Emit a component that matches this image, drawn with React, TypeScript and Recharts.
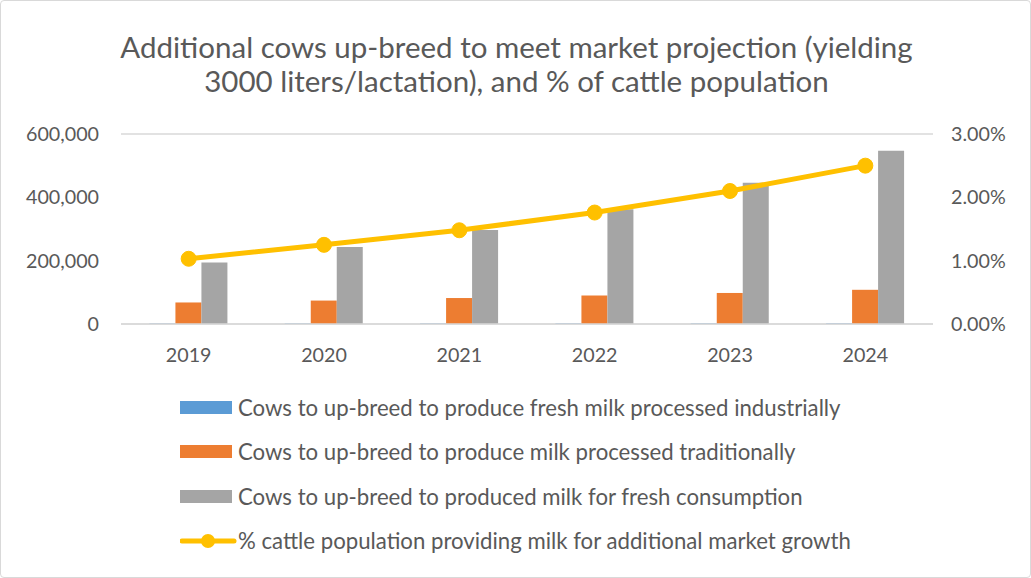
import React from 'react';
import { ComposedChart, Bar, Line, XAxis, YAxis, CartesianGrid, Legend } from 'recharts';

const years = ['2019', '2020', '2021', '2022', '2023', '2024'];
const industrial = [1500, 1600, 1700, 1800, 1900, 2000];
const traditional = [68000, 74000, 82000, 90000, 98000, 108000];
const freshConsumption = [194000, 243000, 297000, 362000, 446000, 547000];
const cattleShare = [1.03, 1.25, 1.48, 1.76, 2.1, 2.5];

const leftTicks = [0, 200000, 400000, 600000];
const rightTicks = [0, 1, 2, 3];

const titleLines = [
  'Additional cows up-breed to meet market projection (yielding',
  '3000 liters/lactation), and % of cattle population',
];

const legendItems = [
  { name: 'Cows to up-breed to produce fresh milk processed industrially', color: '#5b9bd5', kind: 'bar' },
  { name: 'Cows to up-breed to produce milk processed traditionally', color: '#ed7d31', kind: 'bar' },
  { name: 'Cows to up-breed to produced milk for fresh consumption', color: '#a5a5a5', kind: 'bar' },
  { name: '% cattle population providing milk for additional market growth', color: '#ffc000', kind: 'line' },
];

const data = years.map((year, i) => ({
  year,
  industrial: industrial[i],
  traditional: traditional[i],
  fresh: freshConsumption[i],
  share: cattleShare[i],
}));

const FONT = 'Lato, "Liberation Sans", sans-serif';
const TEXT = '#595959';

function LegendBox() {
  return (
    <div style={{ fontFamily: FONT, fontSize: 22.2, color: TEXT }}>
      {legendItems.map((item) => (
        <div key={item.name} style={{ display: 'flex', alignItems: 'center', height: 44.5 }}>
          {item.kind === 'bar' ? (
            <div style={{ width: 52, height: 13, background: item.color, marginRight: 6 }} />
          ) : (
            <svg width={58} height={16}>
              <line x1={2} y1={8} x2={54} y2={8} stroke={item.color} strokeWidth={5} strokeLinecap="round" />
              <circle cx={28} cy={8} r={7} fill={item.color} />
            </svg>
          )}
          <span style={{ whiteSpace: 'nowrap' }}>{item.name}</span>
        </div>
      ))}
    </div>
  );
}

export default function App() {
  return (
    <div
      style={{
        position: 'absolute',
        left: 0,
        top: 0,
        width: 1031,
        height: 578,
        boxSizing: 'border-box',
        border: '1px solid #d9d9d9',
        borderRadius: 4,
        background: '#fff',
        overflow: 'hidden',
      }}
    >
      <div
        style={{
          position: 'absolute',
          top: 29,
          left: 0,
          width: 1031,
          textAlign: 'center',
          fontFamily: FONT,
          fontSize: 29.5,
          lineHeight: '34px',
          color: TEXT,
        }}
      >
        {titleLines.map((l) => (
          <div key={l}>{l}</div>
        ))}
      </div>
      <ComposedChart
        width={1031}
        height={578}
        data={data}
        margin={{ top: 133, right: 0, left: 0, bottom: 225 }}
        barGap={0}
        barCategoryGap="21%"
      >
        <CartesianGrid vertical={false} stroke="#d9d9d9" strokeWidth={1.3} />
        <XAxis
          dataKey="year"
          height={30}
          tickLine={false}
          tickSize={0}
          tickMargin={24}
          axisLine={{ stroke: '#d9d9d9', strokeWidth: 1.3 }}
          tick={{ fontFamily: FONT, fontSize: 19.7, fill: TEXT }}
        />
        <YAxis
          yAxisId="left"
          width={120}
          domain={[0, 600000]}
          ticks={leftTicks}
          tickLine={false}
          axisLine={false}
          tickSize={0}
          tickMargin={22}
          tickFormatter={(v: number) => v.toLocaleString('en-US')}
          tick={{ fontFamily: FONT, fontSize: 19.7, fill: TEXT }}
        />
        <YAxis
          yAxisId="right"
          orientation="right"
          width={99}
          domain={[0, 3]}
          ticks={rightTicks}
          tickLine={false}
          axisLine={false}
          tickSize={0}
          tickMargin={18}
          tickFormatter={(v: number) => `${v.toFixed(2)}%`}
          tick={{ fontFamily: FONT, fontSize: 19.7, fill: TEXT, textAnchor: 'start' }}
        />
        <Legend
          layout="vertical"
          align="center"
          verticalAlign="middle"
          wrapperStyle={{ position: 'absolute', left: 179, top: 384, width: 800 }}
          content={() => <LegendBox />}
        />
        <Bar yAxisId="left" dataKey="industrial" name={legendItems[0].name} fill="#5b9bd5" isAnimationActive={false} />
        <Bar yAxisId="left" dataKey="traditional" name={legendItems[1].name} fill="#ed7d31" isAnimationActive={false} />
        <Bar yAxisId="left" dataKey="fresh" name={legendItems[2].name} fill="#a5a5a5" isAnimationActive={false} />
        <Line
          yAxisId="right"
          dataKey="share"
          name={legendItems[3].name}
          stroke="#ffc000"
          strokeWidth={5}
          dot={{ r: 7.5, fill: '#ffc000', stroke: '#ffc000', strokeWidth: 1 }}
          isAnimationActive={false}
        />
      </ComposedChart>
    </div>
  );
}
